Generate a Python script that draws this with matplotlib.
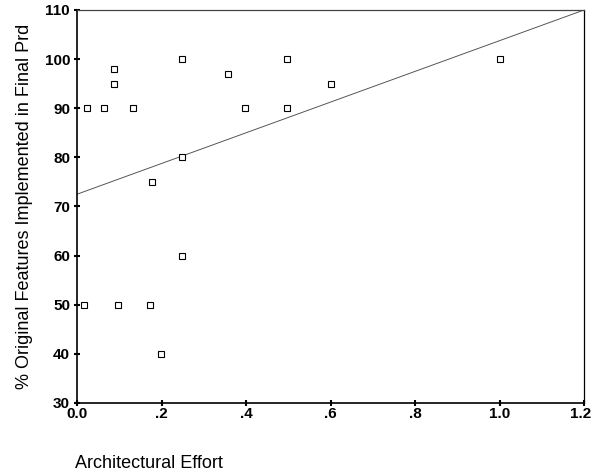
import matplotlib
matplotlib.use("Agg")
import matplotlib.pyplot as plt
from matplotlib.transforms import ScaledTranslation

# Data
arch_effort = [0.023, 0.064, 0.088, 0.088, 0.132, 0.248, 0.357, 0.398, 0.496, 0.496,
               0.60, 1.00, 0.248, 0.178, 0.248, 0.017, 0.098, 0.173, 0.198]
pct_features = [90, 90, 98, 95, 90, 100, 97, 90, 100, 90,
                95, 100, 80, 75, 60, 50, 50, 50, 40]
fit_x = [0.0, 1.2]
fit_y = [72.5, 110.0]

x_ticks = [0.0, 0.2, 0.4, 0.6, 0.8, 1.0, 1.2]
x_tick_labels = ["0.0", ".2", ".4", ".6", ".8", "1.0", "1.2"]
y_ticks = [30, 40, 50, 60, 70, 80, 90, 100, 110]
y_tick_labels = [str(v) for v in y_ticks]

plt.rcParams['font.family'] = ['Liberation Sans', 'DejaVu Sans']

fig = plt.figure(figsize=(5.93, 4.74), dpi=100)
ax = fig.add_axes([77/593, 1 - 403/474, (584 - 77)/593, (403 - 10)/474])

ax.plot(fit_x, fit_y, color='#555555', lw=0.7, zorder=2)
ax.plot(arch_effort, pct_features, linestyle='none', marker='s', ms=4.5,
        mfc='white', mec='black', mew=0.8, zorder=3)

ax.set_xlim(0, 1.2)
ax.set_ylim(30, 110)
ax.set_xticks(x_ticks)
ax.set_xticklabels(x_tick_labels, fontsize=11, fontweight='bold')
ax.set_yticks(y_ticks)
ax.set_yticklabels(y_tick_labels, fontsize=11, fontweight='bold')
ax.tick_params(direction='inout', length=4, width=1.5)
ax.tick_params(axis='x', pad=1)
ax.tick_params(axis='y', pad=3)

# keep the last x tick label inside the canvas
last = ax.get_xticklabels()[-1]
last.set_transform(last.get_transform() + ScaledTranslation(-3/100, 0, fig.dpi_scale_trans))

for side in ['left', 'bottom']:
    ax.spines[side].set_linewidth(1.2)
for side in ['top', 'right']:
    ax.spines[side].set_linewidth(0.9)
ax.spines['top'].set_color('#444444')

ax.set_ylabel("% Original Features Implemented in Final Prd", fontsize=13, labelpad=8)
fig.text(75/593, 1 - 463/474, "Architectural Effort", fontsize=13, ha='left', va='center')

fig.savefig("out.png", dpi=100)
